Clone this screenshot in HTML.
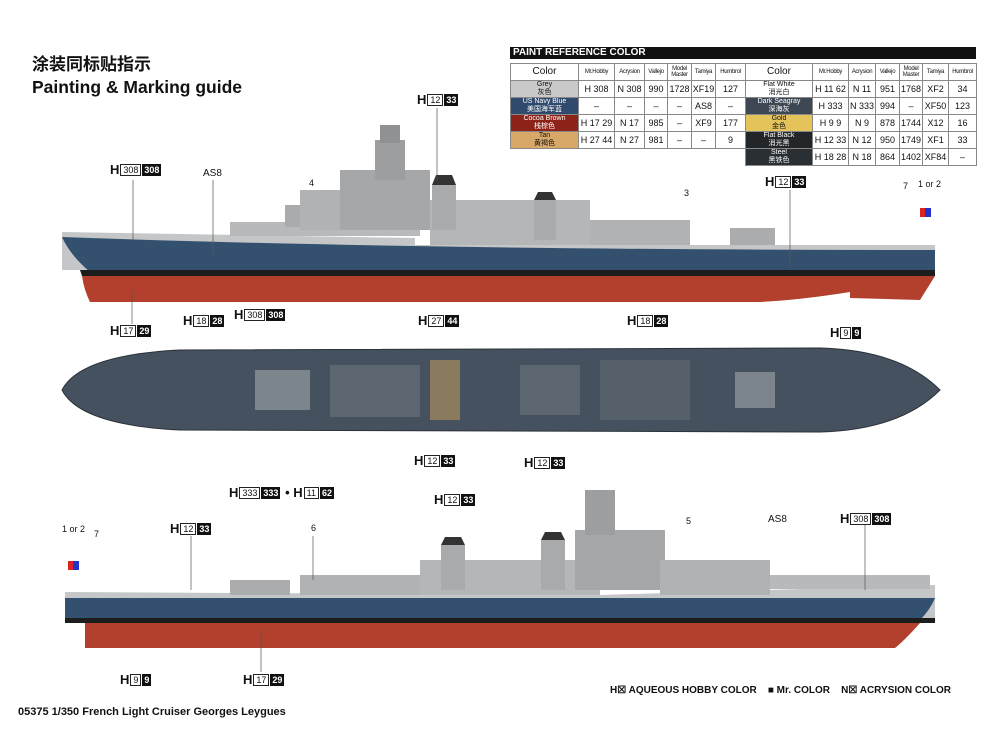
<!DOCTYPE html>
<html><head><meta charset="utf-8"><style>
*{margin:0;padding:0;box-sizing:border-box}
body{width:1000px;height:750px;background:#fff;position:relative;overflow:hidden;font-family:"Liberation Sans","Noto Sans CJK SC",sans-serif;color:#111}
.a{position:absolute;white-space:nowrap}
.h{position:absolute;font-size:13px;font-weight:bold;display:flex;align-items:center;gap:1px;line-height:13px}
.h .w{border:1px solid #222;font-size:9px;padding:0 2px;height:12px;line-height:11px;background:#fff;font-weight:normal}
.h .b{background:#111;color:#fff;font-size:9px;padding:0 2px;height:12px;line-height:12px}
.n{position:absolute;font-size:9px}
table{position:absolute;left:510px;top:63px;width:466px;border-collapse:collapse;table-layout:fixed;font-size:9px}
td{border:1px solid #888;text-align:center;height:16px;padding:0;overflow:hidden;white-space:nowrap}
td.c{font-size:7px;line-height:8px}
tr.hd td{height:17px;font-size:6px;letter-spacing:-0.3px;white-space:normal;line-height:6px}
tr.hd td.cl{font-size:10px;line-height:10px;letter-spacing:0}
</style></head><body>
<div class="a" style="left:32px;top:50px;font-size:17px;font-weight:bold;font-family:'Noto Sans CJK SC',sans-serif">涂装同标贴指示</div>
<div class="a" style="left:32px;top:77px;font-size:17.5px;font-weight:bold">Painting &amp; Marking guide</div>

<div class="a" style="left:510px;top:47px;width:466px;height:12px;background:#111;color:#fff;font-size:10px;font-weight:bold;line-height:12px;padding-left:3px">PAINT REFERENCE COLOR</div>
<table>
<colgroup><col style="width:68px"><col style="width:36px"><col style="width:30px"><col style="width:23px"><col style="width:24px"><col style="width:24px"><col style="width:30px"><col style="width:67px"><col style="width:36px"><col style="width:27px"><col style="width:24px"><col style="width:23px"><col style="width:26px"><col style="width:28px"></colgroup>
<tr class="hd"><td class="cl">Color</td><td>Mr.Hobby</td><td>Acrysion</td><td>Vallejo</td><td>Model Master</td><td>Tamiya</td><td>Humbrol</td><td class="cl">Color</td><td>Mr.Hobby</td><td>Acrysion</td><td>Vallejo</td><td>Model Master</td><td>Tamiya</td><td>Humbrol</td></tr>
<tr><td class="c" style="background:#c9c9c9">Grey<br>灰色</td><td>H 308</td><td>N 308</td><td>990</td><td>1728</td><td>XF19</td><td>127</td><td class="c">Flat White<br>消光白</td><td>H 11 62</td><td>N 11</td><td>951</td><td>1768</td><td>XF2</td><td>34</td></tr>
<tr><td class="c" style="background:#2f4a6c;color:#fff">US Navy Blue<br>美国海军蓝</td><td>–</td><td>–</td><td>–</td><td>–</td><td>AS8</td><td>–</td><td class="c" style="background:#3e4854;color:#fff">Dark Seagray<br>深海灰</td><td>H 333</td><td>N 333</td><td>994</td><td>–</td><td>XF50</td><td>123</td></tr>
<tr><td class="c" style="background:#8d2218;color:#fff">Cocoa Brown<br>栈棕色</td><td>H 17 29</td><td>N 17</td><td>985</td><td>–</td><td>XF9</td><td>177</td><td class="c" style="background:#e3c35a">Gold<br>金色</td><td>H 9 9</td><td>N 9</td><td>878</td><td>1744</td><td>X12</td><td>16</td></tr>
<tr><td class="c" style="background:#d7a867">Tan<br>黄褐色</td><td>H 27 44</td><td>N 27</td><td>981</td><td>–</td><td>–</td><td>9</td><td class="c" style="background:#232628;color:#fff">Flat Black<br>消光黑</td><td>H 12 33</td><td>N 12</td><td>950</td><td>1749</td><td>XF1</td><td>33</td></tr>
<tr><td colspan="7" style="border:none"></td><td class="c" style="background:#2a2f33;color:#fff">Steel<br>黑铁色</td><td>H 18 28</td><td>N 18</td><td>864</td><td>1402</td><td>XF84</td><td>–</td></tr>
</table>

<svg class="a" style="left:0;top:0" width="1000" height="750">
<g>
<path d="M62,232 L415,238 L415,245 L935,245 L935,270 L62,270 Z" fill="#c4c6c8"/>
<path d="M62,237 Q415,250 935,250 L935,270 Q900,272 90,272 Q70,255 62,237Z" fill="#34506f"/>
<path d="M80,270 L935,270 L935,276 L82,276Z" fill="#1d1d1d"/>
<path d="M82,276 L850,276 L850,292 Q800,300 760,302 L90,302 Q84,290 82,276Z" fill="#b3402c"/>
<path d="M850,276 L935,276 L920,300 L850,298Z" fill="#b3402c"/>
<rect x="230" y="222" width="190" height="14" fill="#b7b9bb"/>
<rect x="285" y="205" width="45" height="22" fill="#a9abad"/>
<rect x="300" y="190" width="110" height="40" fill="#b0b2b4"/>
<rect x="340" y="170" width="90" height="60" fill="#a5a7a9"/>
<rect x="375" y="140" width="30" height="40" fill="#9c9ea0"/>
<rect x="380" y="125" width="20" height="18" fill="#8f9193"/>
<rect x="430" y="200" width="160" height="45" fill="#b4b6b8"/>
<rect x="432" y="185" width="24" height="45" fill="#a8aaac"/><path d="M432,185 L456,185 L452,175 L436,175Z" fill="#333"/>
<rect x="534" y="200" width="22" height="40" fill="#a8aaac"/><path d="M534,200 L556,200 L552,192 L538,192Z" fill="#333"/>
<rect x="590" y="220" width="100" height="25" fill="#b0b2b4"/>
<rect x="730" y="228" width="45" height="17" fill="#aaacae"/>
<rect x="920" y="208" width="5" height="9" fill="#d22"/><rect x="925" y="208" width="6" height="9" fill="#23c"/>
<line x1="133" y1="180" x2="133" y2="240" stroke="#555" stroke-width=".7"/>
<line x1="213" y1="180" x2="213" y2="255" stroke="#555" stroke-width=".7"/>
<line x1="437" y1="108" x2="437" y2="180" stroke="#555" stroke-width=".7"/>
<line x1="790" y1="190" x2="790" y2="268" stroke="#555" stroke-width=".7"/>
<line x1="132" y1="290" x2="132" y2="324" stroke="#555" stroke-width=".7"/>
</g>
<path d="M62,390 Q80,355 180,350 L820,348 Q900,350 940,390 Q900,430 820,432 L180,430 Q80,425 62,390Z" fill="#45515f" stroke="#2a3138"/>
<rect x="255" y="370" width="55" height="40" fill="#7d858c"/>
<rect x="330" y="365" width="90" height="52" fill="#5c6670"/>
<rect x="430" y="360" width="30" height="60" fill="#8a7a5e"/>
<rect x="520" y="365" width="60" height="50" fill="#5c6670"/>
<rect x="600" y="360" width="90" height="60" fill="#56606a"/>
<rect x="735" y="372" width="40" height="36" fill="#7d858c"/>
<g>
<path d="M65,592 L600,595 L935,585 L935,620 L65,620 Z" fill="#c4c6c8"/>
<path d="M65,598 L935,598 Q930,610 920,620 L65,620Z" fill="#34506f"/>
<rect x="65" y="618" width="870" height="5" fill="#1d1d1d"/>
<path d="M85,623 L920,623 Q905,640 895,648 L85,648Z" fill="#b3402c"/>
<rect x="230" y="580" width="60" height="15" fill="#aaacae"/>
<rect x="300" y="575" width="120" height="20" fill="#b0b2b4"/>
<rect x="420" y="560" width="180" height="35" fill="#b4b6b8"/>
<rect x="441" y="545" width="24" height="45" fill="#a8aaac"/><path d="M441,545 L465,545 L461,537 L445,537Z" fill="#333"/>
<rect x="541" y="540" width="24" height="50" fill="#a8aaac"/><path d="M541,540 L565,540 L561,532 L545,532Z" fill="#333"/>
<rect x="575" y="530" width="90" height="60" fill="#a5a7a9"/>
<rect x="585" y="490" width="30" height="45" fill="#9c9ea0"/>
<rect x="660" y="560" width="110" height="35" fill="#b0b2b4"/>
<rect x="770" y="575" width="160" height="14" fill="#b7b9bb"/>
<rect x="68" y="561" width="5" height="9" fill="#d22"/><rect x="73" y="561" width="6" height="9" fill="#23c"/>
<line x1="191" y1="536" x2="191" y2="590" stroke="#555" stroke-width=".7"/>
<line x1="313" y1="536" x2="313" y2="580" stroke="#555" stroke-width=".7"/>
<line x1="865" y1="524" x2="865" y2="590" stroke="#555" stroke-width=".7"/>
<line x1="261" y1="630" x2="261" y2="672" stroke="#555" stroke-width=".7"/>
</g>
</svg>

<div class="h" style="left:417px;top:93px">H<span class="w">12</span><span class="b">33</span></div>
<div class="h" style="left:110px;top:163px">H<span class="w">308</span><span class="b">308</span></div>
<div class="n" style="left:203px;top:168px;font-size:10px">AS8</div>
<div class="n" style="left:309px;top:178px">4</div>
<div class="n" style="left:684px;top:188px">3</div>
<div class="h" style="left:765px;top:175px">H<span class="w">12</span><span class="b">33</span></div>
<div class="n" style="left:903px;top:181px">7</div>
<div class="n" style="left:918px;top:179px">1 or 2</div>
<div class="h" style="left:110px;top:324px">H<span class="w">17</span><span class="b">29</span></div>
<div class="h" style="left:183px;top:314px">H<span class="w">18</span><span class="b">28</span></div>
<div class="h" style="left:234px;top:308px">H<span class="w">308</span><span class="b">308</span></div>
<div class="h" style="left:418px;top:314px">H<span class="w">27</span><span class="b">44</span></div>
<div class="h" style="left:627px;top:314px">H<span class="w">18</span><span class="b">28</span></div>
<div class="h" style="left:830px;top:326px">H<span class="w">9</span><span class="b">9</span></div>
<div class="h" style="left:414px;top:454px">H<span class="w">12</span><span class="b">33</span></div>
<div class="h" style="left:524px;top:456px">H<span class="w">12</span><span class="b">33</span></div>
<div class="h" style="left:229px;top:486px">H<span class="w">333</span><span class="b">333</span>&nbsp;•&nbsp;H<span class="w">11</span><span class="b">62</span></div>
<div class="h" style="left:434px;top:493px">H<span class="w">12</span><span class="b">33</span></div>
<div class="h" style="left:170px;top:522px">H<span class="w">12</span><span class="b">33</span></div>
<div class="n" style="left:311px;top:523px">6</div>
<div class="n" style="left:686px;top:516px">5</div>
<div class="n" style="left:768px;top:514px;font-size:10px">AS8</div>
<div class="h" style="left:840px;top:512px">H<span class="w">308</span><span class="b">308</span></div>
<div class="n" style="left:62px;top:524px">1 or 2</div>
<div class="n" style="left:94px;top:529px">7</div>
<div class="h" style="left:120px;top:673px">H<span class="w">9</span><span class="b">9</span></div>
<div class="h" style="left:243px;top:673px">H<span class="w">17</span><span class="b">29</span></div>
<div class="a" style="left:610px;top:685px;font-size:10px;font-weight:bold">H☒ AQUEOUS HOBBY COLOR &nbsp;&nbsp;&nbsp;■ Mr. COLOR &nbsp;&nbsp;&nbsp;N☒ ACRYSION COLOR</div>
<div class="a" style="left:18px;top:706px;font-size:11px;font-weight:bold">05375 1/350 French Light Cruiser Georges Leygues</div>
</body></html>
